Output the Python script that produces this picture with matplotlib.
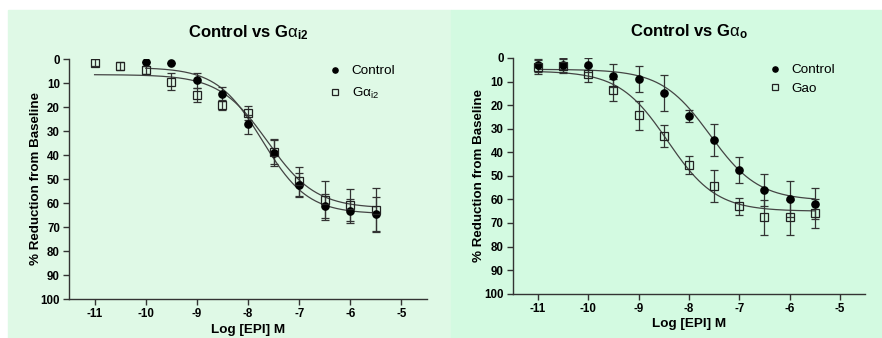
import numpy as np
import matplotlib
matplotlib.use("Agg")
import matplotlib.pyplot as plt
from matplotlib.patches import Rectangle

plt.rcParams["font.family"] = ["Liberation Sans", "DejaVu Sans"]
plt.rcParams["mathtext.fontset"] = "custom"
plt.rcParams["mathtext.rm"] = "Liberation Sans"
plt.rcParams["mathtext.it"] = "Liberation Sans"
plt.rcParams["mathtext.bf"] = "Liberation Sans:bold"
plt.rcParams["axes.unicode_minus"] = False

# ---- data: log[EPI] (M) vs % reduction from baseline (mean, SEM) ----
log_epi = [-11, -10.5, -10, -9.5, -9, -8.5, -8, -7.5, -7, -6.5, -6, -5.5]

# Panel A: Control vs Gai2
ctrl_a_x = [-10, -9.5, -9, -8.5, -8, -7.5, -7, -6.5, -6, -5.5]
ctrl_a_y = [1.4, 1.8, 8.9, 14.7, 27.2, 39.0, 52.5, 61.4, 63.5, 64.7]
ctrl_a_err = [0.0, 0.0, 3.0, 3.0, 4.0, 5.5, 5.0, 5.0, 5.0, 7.0]
gi2_y = [1.5, 2.9, 4.6, 9.4, 15.1, 19.2, 22.6, 38.9, 51.0, 58.9, 60.8, 62.9]
gi2_err = [1.5, 1.5, 1.5, 3.6, 3.0, 2.0, 3.0, 5.0, 6.0, 8.0, 6.5, 9.0]

# Panel B: Control vs Gao
ctrl_b_y = [3.1, 3.1, 3.1, 7.6, 9.0, 15.0, 24.6, 34.8, 47.5, 56.0, 59.8, 61.8]
ctrl_b_err = [2.8, 3.0, 3.0, 4.9, 5.4, 7.6, 2.5, 6.9, 5.4, 6.7, 7.5, 6.6]
gao_y = [4.0, 3.3, 6.8, 13.7, 24.3, 33.1, 45.4, 54.4, 62.9, 67.6, 67.6, 65.9]
gao_err = [3.0, 3.0, 3.4, 4.6, 6.2, 4.6, 3.7, 6.7, 3.7, 7.4, 7.4, 6.2]

# sigmoidal dose-response fits: (top, bottom, logEC50, hill, x_start)
fit_ctrl_a = (3.5, 64.5, -7.72, 0.98, -10.0)
fit_gi2 = (6.5, 62.2, -7.62, 0.92, -11.0)
fit_ctrl_b = (4.8, 60.5, -7.58, 0.9, -11.0)
fit_gao = (5.5, 65.0, -8.42, 0.9, -11.0)

x_ticks = [-11, -10, -9, -8, -7, -6, -5]
y_ticks = [0, 10, 20, 30, 40, 50, 60, 70, 80, 90, 100]

W, H = 882, 338
fig = plt.figure(figsize=(W / 100, H / 100), dpi=100)
fig.patch.set_facecolor("white")

left_bg = "#dff9e6"
right_bg = "#d3fae1"
fig.patches.append(Rectangle((8 / W, 0), (451 - 8) / W, 1 - 10 / H,
                             transform=fig.transFigure, color=left_bg, zorder=-10))
fig.patches.append(Rectangle((451 / W, 0), (W - 451) / W, 1 - 10 / H,
                             transform=fig.transFigure, color=right_bg, zorder=-10))

ink = "#333333"


def curve(ax, params):
    top, bottom, ec50, hill, x0 = params
    xs = np.linspace(x0, -5.5, 300)
    ys = top + (bottom - top) / (1 + 10 ** ((ec50 - xs) * hill))
    ax.plot(xs, ys, color="#444444", lw=0.9, zorder=2)


def style(ax):
    ax.set_facecolor("none")
    ax.set_xlim(-11.5, -4.5)
    ax.set_ylim(100, 0)
    ax.set_xticks(x_ticks)
    ax.set_yticks(y_ticks)
    for s in ("top", "right"):
        ax.spines[s].set_visible(False)
    for s in ("left", "bottom"):
        ax.spines[s].set_color(ink)
        ax.spines[s].set_linewidth(1.0)
    ax.tick_params(length=4, width=1.0, color=ink, labelsize=8.3, pad=2.5)
    for lab in ax.get_xticklabels() + ax.get_yticklabels():
        lab.set_fontweight("bold")


def series(ax, xs, ys, err, marker, filled, label):
    ax.errorbar(xs, ys, yerr=err, fmt="none", ecolor=ink, elinewidth=0.9,
                capsize=3, capthick=0.9, zorder=3)
    if filled:
        ax.plot(xs, ys, ls="none", marker=marker, ms=5.2, mfc="black",
                mec="black", label=label, zorder=4)
    else:
        ax.plot(xs, ys, ls="none", marker=marker, ms=5.6, mfc="none",
                mec="#222222", mew=0.9, label=label, zorder=4)


def legend(ax, x_px, y_px, spacing):
    ax.legend(loc="upper left", bbox_to_anchor=(x_px / W, 1 - y_px / H),
              bbox_transform=fig.transFigure, frameon=False, fontsize=9.7,
              markerscale=0.72, handlelength=1.0, handletextpad=0.75,
              labelspacing=spacing, borderpad=0, borderaxespad=0)


# Left panel
ax1 = fig.add_axes([69 / W, 1 - 299 / H, (427 - 69) / W, (299 - 59) / H])
style(ax1)
curve(ax1, fit_ctrl_a)
curve(ax1, fit_gi2)
series(ax1, ctrl_a_x, ctrl_a_y, ctrl_a_err, "o", True, "Control")
series(ax1, log_epi, gi2_y, gi2_err, "s", False, r"G$\alpha_{\mathrm{i2}}$")
legend(ax1, 328, 65, 0.6)

# Right panel
ax2 = fig.add_axes([512.7 / W, 1 - 293.7 / H, (865 - 512.7) / W, (293.7 - 58) / H])
style(ax2)
curve(ax2, fit_ctrl_b)
curve(ax2, fit_gao)
series(ax2, log_epi, ctrl_b_y, ctrl_b_err, "o", True, "Control")
series(ax2, log_epi, gao_y, gao_err, "s", False, "Gao")
legend(ax2, 768, 64, 0.45)

# Titles and axis labels
fig.text(248 / W, 1 - 33 / H, r"Control vs G$\alpha_{\mathbf{i2}}$", ha="center",
         va="center", fontsize=12, fontweight="bold")
fig.text(689 / W, 1 - 32 / H, r"Control vs G$\alpha_{\mathbf{o}}$", ha="center",
         va="center", fontsize=12, fontweight="bold")
fig.text(248 / W, 1 - 330 / H, "Log [EPI] M", ha="center", va="center",
         fontsize=9.7, fontweight="bold")
fig.text(689 / W, 1 - 324 / H, "Log [EPI] M", ha="center", va="center",
         fontsize=9.7, fontweight="bold")
fig.text(36 / W, 1 - 178.5 / H, "% Reduction from Baseline", ha="center",
         va="center", rotation=90, fontsize=9.6, fontweight="bold")
fig.text(479 / W, 1 - 175 / H, "% Reduction from Baseline", ha="center",
         va="center", rotation=90, fontsize=9.6, fontweight="bold")

fig.savefig("out.png", dpi=100, facecolor=fig.get_facecolor())
